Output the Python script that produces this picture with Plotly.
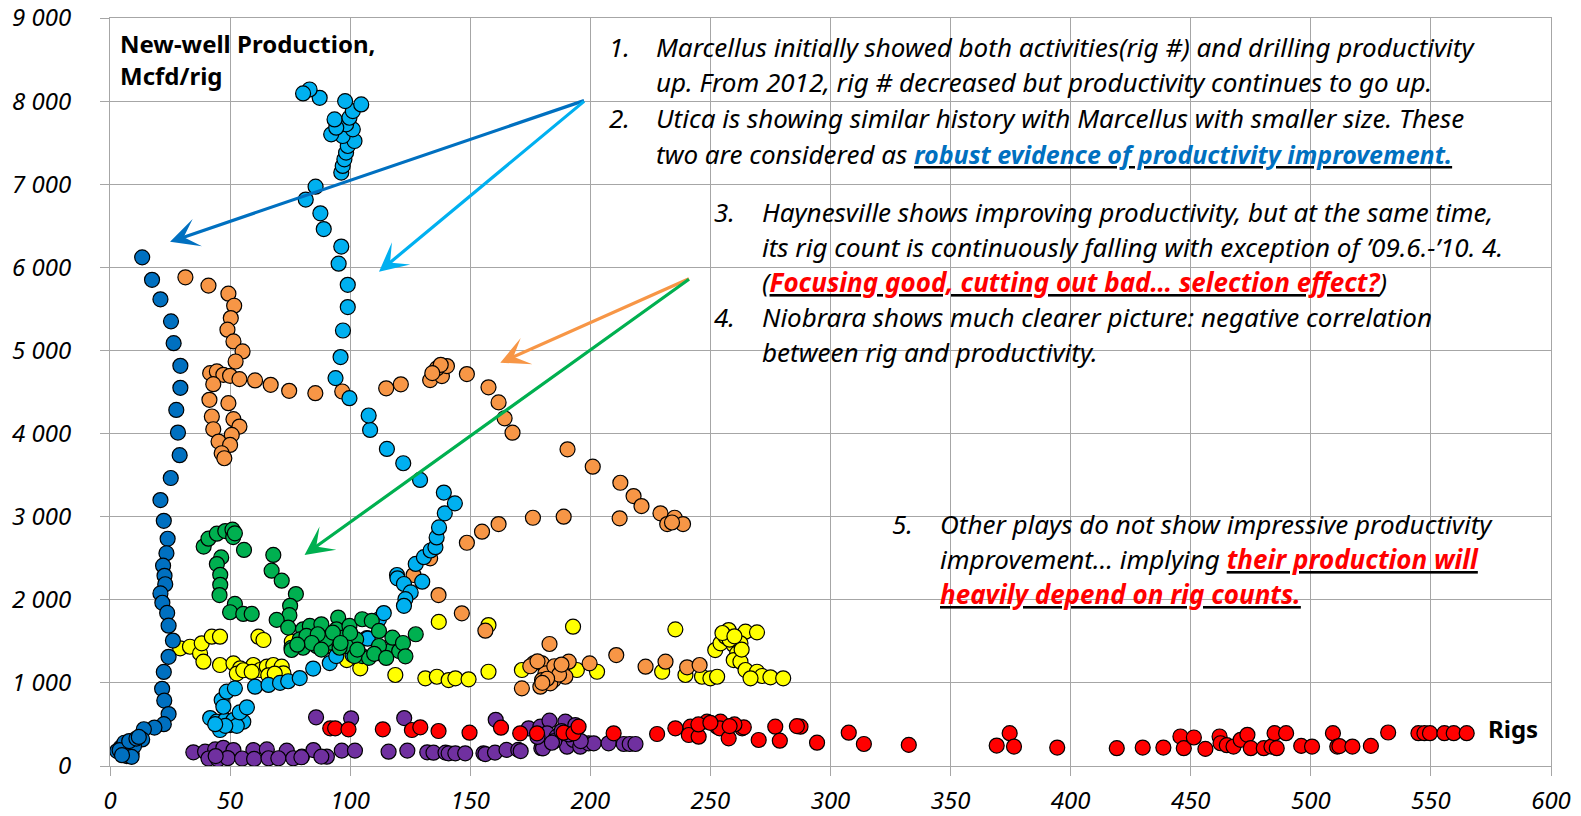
import plotly.graph_objects as go

# ---------------- data (rigs, new-well production Mcfd/rig) ----------------
utica_x = [13.4, 17.5, 21, 25.4, 26.5, 29.3, 29.3, 27.6, 28.3, 29, 25.3, 21, 22.4, 24, 23.5, 22.1,
           22.7, 23, 21, 21.8, 23.8, 24.4, 26.2, 24.4, 22.4, 21.7, 22.6, 24.4, 22.4, 18.5, 14.1,
           13.4, 9.9, 7.2, 4.4, 3, 5.8, 5, 6, 7, 8, 9, 10, 6, 4, 7, 8, 11, 12, 9, 5]
utica_y = [6120, 5850, 5615, 5350, 5087, 4815, 4550, 4284, 4012, 3740, 3465, 3200, 2950, 2734, 2560,
           2410, 2288, 2187, 2077, 1964, 1842, 1688, 1509, 1314, 1132, 929, 787, 625, 503, 462, 442,
           320, 280, 240, 220, 180, 160, 230, 200, 170, 260, 150, 240, 280, 190, 120, 300, 330, 350,
           110, 130]

marcellus_x = [41.7, 44.4, 45.8, 48, 50, 51.4, 55.5, 52.8, 48, 43.8, 54, 57, 46.5, 47.2, 48.6, 52,
               60.4, 66, 70.8, 74.2, 79, 84.6, 91.5, 94.2, 100, 101, 107, 107.3, 112, 114, 119.5,
               119.7, 122.4, 125.2, 123, 122.4, 127.3, 130, 130.7, 133.5, 135.5, 136, 137, 139.4,
               143.6, 139, 129.1, 122.1, 115.3, 108.3, 107.7, 99.7, 93.9, 96, 97, 99, 99, 95.2,
               96.3, 89, 87.6, 81.5, 85.6, 96.3, 96.9, 97.6, 98.3, 99, 101.8, 96.9, 92.1, 101.1,
               98.3, 94.2, 93.5, 99.7, 101.1, 104.6, 97.9, 87.3, 83.1, 80.4]
marcellus_y = [577, 533, 433, 553, 493, 553, 533, 483, 483, 503, 645, 706, 794, 713, 894, 934,
               954, 975, 1000, 1020, 1058, 1172, 1239, 1323, 1435, 1335, 1540, 1532, 1766, 1840, 2298,
               2258, 2190, 2089, 2008, 1927, 2431, 2218, 2512, 2593, 2633, 2750, 2870, 3040,
               3160, 3290, 3442, 3643, 3815, 4044, 4217, 4426, 4667, 4920, 5240, 5522, 5790, 6044,
               6250, 6460, 6650, 6815, 6970, 7140, 7220, 7300, 7380, 7460, 7520, 7580, 7600, 7660,
               7720, 7680, 7780, 7800, 7880, 7960, 8000, 8040, 8140, 8092]

haynesville_x = [31.4, 41, 49.3, 51.7, 50.3, 48.9, 51.4, 55.2, 52.3, 41.7, 44.5, 47.2, 50, 53.9, 43,
                 41.4, 49.3, 42.4, 51.4, 53.9, 43, 50.7, 45.2, 50, 46.5, 47.6, 60.4, 66.9, 74.6,
                 85.5, 96.7, 115, 121.1, 133.3, 138.2, 136.1, 140.3, 137.7, 134.2, 148.6, 157.6,
                 161.8, 164.3, 167.6, 190.5, 201, 212.5, 218, 221.3, 229.2, 232, 235.1, 238.6, 234,
                 212.2, 188.9, 176.1, 161.8, 154.9, 148.6, 133.3, 126.4, 136.8, 146.5, 156.3, 183,
                 210.8, 191, 199.7, 223, 231.3, 240.3, 245.5, 176.4, 179.9, 181.3, 186.1, 189.6,
                 184.7, 179.2, 171.5, 179.9, 183.3, 175, 178, 185, 187, 182, 188, 180]
haynesville_y = [5880, 5780, 5683, 5538, 5390, 5250, 5108, 4988, 4867, 4727, 4747, 4707, 4695, 4655,
                 4594, 4406, 4365, 4205, 4173, 4084, 4052, 3984, 3904, 3863, 3763, 3703, 4639, 4586,
                 4514, 4486, 4506, 4544, 4592, 4643, 4692, 4784, 4812, 4827, 4727, 4716, 4556,
                 4375, 4183, 4010, 3810, 3601, 3408, 3248, 3128, 3040, 2911, 2987, 2911, 2930,
                 2980, 3000, 2987, 2911, 2819, 2686, 2499, 2298, 2057, 1837, 1628, 1468,
                 1335, 1255, 1235, 1195, 1255, 1187, 1215, 1235, 1235, 1115, 1155, 1074,
                 1034, 954, 934, 1034, 994, 1200, 1260, 1200, 1100, 1050, 1220, 1000]

niobrara_x = [39, 41, 44.5, 48, 51, 51.3, 52, 55.8, 46.3, 44.5, 45.9, 45.9, 45.6, 52, 50, 55.5, 59,
              68, 67.3, 71.5, 77.4, 75, 74.7, 69.4, 74.2, 80.4, 83.2, 88, 95, 94.3, 99.7, 105, 109,
              112, 102.5, 97, 91.5, 86, 80.4, 75.6, 79, 81.8, 90, 98.3, 105, 107.8, 113.5, 117.6,
              120.4, 117.6, 112, 101.8, 95.6, 86.5, 92.8, 127.3, 75.6, 84, 88, 100, 103, 110, 115,
              122, 123, 96, 78]
niobrara_y = [2640, 2735, 2795, 2827, 2844, 2755, 2800, 2600, 2510, 2430, 2300, 2180, 2057, 1950,
              1850, 1830, 1830, 2540, 2350, 2230, 2069, 1927, 1815, 1758, 1665, 1645, 1685, 1705,
              1786, 1645, 1685, 1766, 1746, 1625, 1524, 1544, 1484, 1444, 1423, 1423, 1524, 1565,
              1524, 1444, 1323, 1302, 1343, 1403, 1383, 1544, 1444, 1323, 1423, 1585, 1605, 1585,
              1396, 1480, 1400, 1600, 1400, 1350, 1300, 1480, 1320, 1480, 1460]

yellow_x = [29.2, 33.3, 37.5, 38.9, 38.2, 42.4, 45.8, 45.8, 51.4, 54.2, 59.7, 62.5, 65.3, 68, 71.5,
            72.2, 52.8, 55.5, 59, 65.9, 68.6, 61.8, 63.9, 75.7, 89.6, 88, 98.6, 104.2, 118.8,
            136.9, 131.3, 136.1, 141, 143.8, 149.3, 157.6, 157.6, 171.5, 192.8, 194.4, 202.8,
            229.9, 235.4, 239.6, 246.5, 250, 252.8, 257.6, 264.6, 269.4, 252, 254.2, 256.3, 259.7,
            262.5, 261.1, 259.7, 262.5, 264.6, 269.4, 271.5, 275, 280.3, 266.7, 258, 263, 255, 260]
yellow_y = [1416, 1435, 1355, 1255, 1476, 1556, 1556, 1215, 1235, 1175, 1215, 1155, 1195, 1215, 1195,
            1115, 1112, 1152, 1132, 1091, 1112, 1556, 1516, 1495, 1435, 1444, 1275, 1175, 1095,
            1734, 1055, 1074, 1034, 1055, 1043, 1696, 1134, 1155, 1676, 1155, 1134,
            1134, 1644, 1095, 1074, 1055, 1074, 1636, 1616, 1608, 1395, 1476, 1556, 1456,
            1476, 1355, 1275, 1255, 1155, 1134, 1083, 1067, 1055, 1055, 1520, 1400, 1600, 1560]

purple_x = [34.7, 39.6, 43.8, 47.2, 51.4, 59.7, 65.3, 73.6, 79.9, 84.7, 90.3, 96.5, 102, 116, 85.8,
            100.4, 122.5, 160.6, 41, 45, 49, 55, 60, 66, 70.1, 76.3, 79.7, 88, 44, 123.8, 132.1,
            134.7, 139.7, 141, 143.8, 147.9, 155.5, 156.3, 160.3, 165.1, 170, 171, 179.6, 174.3,
            179.2, 183, 190, 182, 186, 180.5, 190.3, 193, 195.8, 199.3, 201.4, 207.6, 213.9,
            216.4, 218.8, 193.75, 189.6, 193.75, 180.3, 185, 188, 184, 178, 191, 196]
purple_y = [165, 172, 199, 219, 192, 192, 200, 185, 112, 192, 112, 185, 185, 172, 586,
            574, 577, 556, 90, 80, 95, 90, 85, 93, 93, 93, 105, 113, 120, 185, 165,
            160, 161, 152, 153, 153, 153, 144, 161, 194, 194, 180, 214, 453,
            473, 545, 521, 393, 353, 232, 232, 313, 232, 273, 273, 273, 265,
            265, 265, 413, 533, 493, 213, 300, 420, 280, 350, 380, 300]

red_x = [91.7, 93.75, 99.3, 113.6, 125.7, 129.2, 136.8, 149.7, 162.8, 170.8, 177.8, 188.9, 193,
         195.1, 209.7, 227.8, 235.4, 241.7, 241, 245.1, 248.6, 252.8, 254.2, 253.9, 257.6, 263.2,
         263.9, 260, 245, 250, 258, 270.1, 277, 278.9, 287.5, 286, 294.4, 307.6, 313.9, 332.6,
         369.2, 374.6, 376.4, 394.4, 419.2, 430, 438.6, 445.7, 447.1, 451.3, 456.1, 462, 462.4,
         465, 467.8, 470.8, 473.6, 475, 480.4, 483.6, 484.9, 485.8, 489.7, 496, 500.5, 509.2,
         511, 511.9, 517.3, 525, 532.2, 544.8, 547.3, 549.6, 555.6, 559.5, 564.9]
red_y = [453, 453, 441, 441, 433, 465, 421, 401, 461, 393, 393, 401, 393,
         473, 393, 385, 453, 473, 373, 353, 533, 473, 533, 453, 333, 453,
         465, 500, 500, 520, 480, 313, 473, 305, 473, 480, 281, 401, 265, 254,
         246, 395, 234, 222, 214, 222, 222, 355, 214, 343, 206, 355, 274,
         250, 234, 315, 375, 214, 214, 234, 395, 214, 395, 242, 234, 395,
         234, 240, 234, 242, 403, 395, 395, 395, 395, 395, 395]

x_ticks = list(range(0, 601, 50))
y_ticks = list(range(0, 9001, 1000))

# ---------------- figure ----------------
W, H = 1581, 816
ML, MR, MT, MB = 110, 30, 18, 50
PW, PH = W - ML - MR, H - MT - MB

def px2paper(px, py):
    return (px - ML) / PW, (H - MB - py) / PH

fig = go.Figure()
series = [
    (purple_x, purple_y, "#7030A0", "Other (purple)"),
    (red_x, red_y, "#FF0000", "Other (red)"),
    (yellow_x, yellow_y, "#FFFF00", "Other (yellow)"),
    (haynesville_x, haynesville_y, "#F79646", "Haynesville"),
    (marcellus_x, marcellus_y, "#00B0F0", "Marcellus"),
    (utica_x, utica_y, "#0070C0", "Utica"),
    (niobrara_x, niobrara_y, "#00B050", "Niobrara"),
]
for xs, ys, col, name in series:
    fig.add_trace(go.Scatter(x=xs, y=ys, mode="markers", name=name, hoverinfo="skip",
                             marker=dict(size=15, color=col, line=dict(color="black", width=1.2))))

FONT = "Noto Sans, Open Sans, sans-serif"
grid = "#A6A6A6"
tickfont = dict(family=FONT, size=24, color="black", style="italic")
fig.update_layout(
    width=W, height=H, margin=dict(l=ML, r=MR, t=MT, b=MB, autoexpand=False),
    paper_bgcolor="white", plot_bgcolor="white", showlegend=False,
    separators=". ",
    xaxis=dict(range=[0, 600], tickvals=x_ticks, showgrid=True, gridcolor=grid, gridwidth=1,
               showline=True, linecolor=grid, mirror=True, zeroline=False, automargin=False,
               ticks="outside", ticklen=9, tickcolor=grid, tickfont=tickfont,
               ticklabelstandoff=4),
    yaxis=dict(range=[0, 9000], tickvals=y_ticks, tickformat=",d", showgrid=True, gridcolor=grid,
               gridwidth=1, showline=True, linecolor=grid, mirror=True, zeroline=False,
               automargin=False, ticks="outside", ticklen=9, tickcolor=grid, tickfont=tickfont,
               ticklabelstandoff=24),
)

# arrows
arrows = [
    ((198, 8012), (25, 6307), "#0070C0"),
    ((198, 8012), (112, 5947), "#00B0F0"),
    ((241.7, 5870), (162.5, 4852), "#F79646"),
    ((241.7, 5870), (81, 2540), "#00B050"),
]
for (ax, ay), (x, y), col in arrows:
    fig.add_annotation(x=x, y=y, ax=ax, ay=ay, xref="x", yref="y", axref="x", ayref="y",
                       text="", showarrow=True, arrowhead=3, arrowsize=1.5, arrowwidth=3.2,
                       arrowcolor=col, standoff=0)

FS = 26

def txt(px, py, s, anchor="left", bold=False, size=FS):
    xp, yp = px2paper(px, py)
    if bold:
        s = "<b>" + s + "</b>"
    fig.add_annotation(x=xp, y=yp, xref="paper", yref="paper", text=s, showarrow=False,
                       xanchor=anchor, yanchor="middle", align="left",
                       font=dict(family=FONT, size=size, color="black"))

blue_hl = ("<b><u><span style='color:#0070C0;font-size:25px'>"
           "robust evidence of productivity improvement.</span></u></b>")
red_hl1 = "<b><u><span style='color:#FF0000'>Focusing good, cutting out bad… selection effect?</span></u></b>"
red_hl2 = "<b><u><span style='color:#FF0000'>their production will</span></u></b>"
red_hl3 = "<b><u><span style='color:#FF0000'>heavily depend on rig counts.</span></u></b>"

lines = [
    (607, 654, 47, "1.", "Marcellus initially showed both activities(rig #) and drilling productivity"),
    (607, 654, 82.5, "", "up. From 2012, rig # decreased but productivity continues to go up."),
    (607, 654, 118, "2.", "Utica is showing similar history with Marcellus with smaller size. These"),
    (607, 654, 153.5, "", "two are considered as " + blue_hl),
    (712, 760, 212, "3.", "Haynesville shows improving productivity, but at the same time,"),
    (712, 760, 247, "", "its rig count is continuously falling with exception of ’09.6.-’10. 4."),
    (712, 760, 282, "", "(" + red_hl1 + ")"),
    (712, 760, 317, "4.", "Niobrara shows much clearer picture: negative correlation"),
    (712, 760, 352, "", "between rig and productivity."),
    (890, 938, 524, "5.", "Other plays do not show impressive productivity"),
    (890, 938, 559, "", "improvement… implying " + red_hl2),
    (890, 938, 594, "", red_hl3),
]
for nx, tx, py, num, s in lines:
    if num:
        txt(nx, py, "<i>" + num + "</i>")
    txt(tx, py, "<i>" + s + "</i>")

txt(118, 43, "New-well Production,", bold=True, size=24)
txt(118, 76, "Mcfd/rig", bold=True, size=24)
txt(1513, 728, "Rigs", anchor="center", bold=True, size=24)

fig.write_html("out.html", config={"displayModeBar": False},
               post_script="document.body.style.margin='0';")
